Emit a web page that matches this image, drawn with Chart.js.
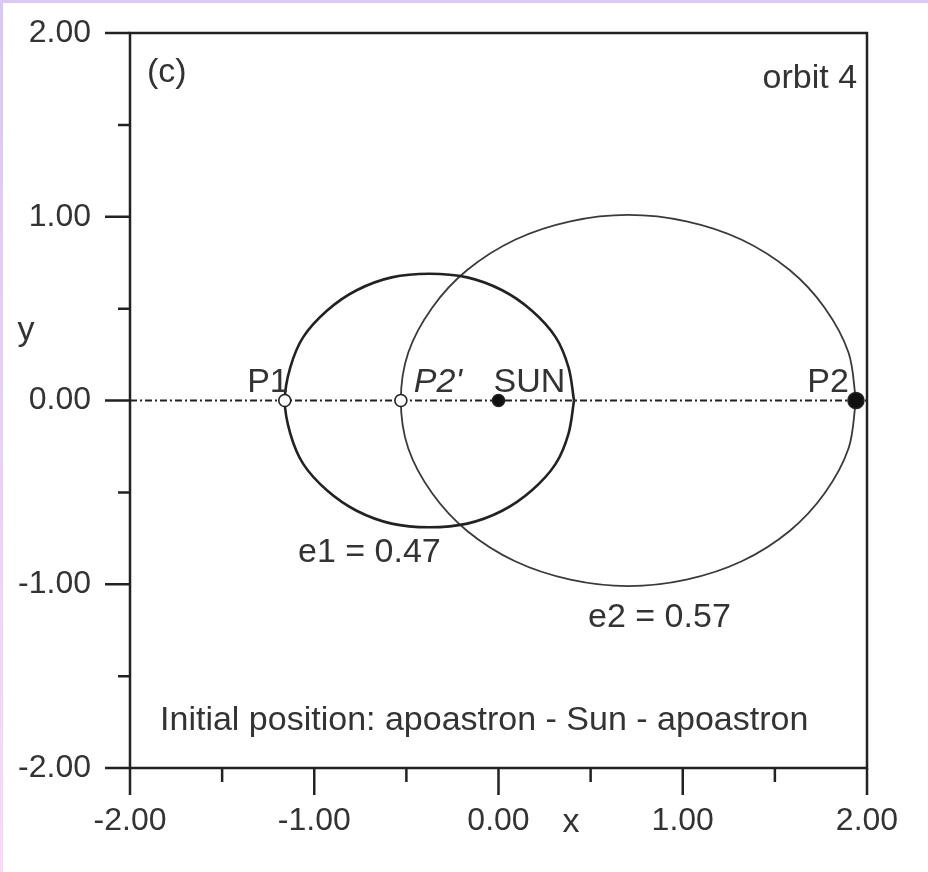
<!DOCTYPE html>
<html>
<head>
<meta charset="utf-8">
<script src="https://cdn.jsdelivr.net/npm/chart.js@4"></script>
<style>
html,body{margin:0;padding:0;background:#fff;}
#wrap{width:928px;height:872px;position:relative;}
</style>
</head>
<body>
<div id="wrap"><canvas id="orbita" width="928" height="872"></canvas></div>
<script>
// orbita 1 (e1 = 0.47), tocke ocitane sa slike
var orbit1X=[0.41,0.38,0.31,0.18,0.02,-0.17,-0.375,-0.58,-0.77,-0.93,-1.06,-1.13,-1.16,-1.13,-1.06,-0.93,-0.77,-0.58,-0.375,-0.17,0.02,0.18,0.31,0.38,0.41];
var orbit1Y=[0,0.18,0.345,0.49,0.60,0.67,0.69,0.67,0.60,0.49,0.345,0.18,0,-0.18,-0.345,-0.49,-0.60,-0.67,-0.69,-0.67,-0.60,-0.49,-0.345,-0.18,0];
// orbita 2 (e2 = 0.57)
var orbit2X=[1.94,1.90,1.77,1.58,1.32,1.02,0.705,0.39,0.09,-0.17,-0.36,-0.49,-0.53,-0.49,-0.36,-0.17,0.09,0.39,0.705,1.02,1.32,1.58,1.77,1.90,1.94];
var orbit2Y=[0,0.26,0.505,0.71,0.875,0.975,1.01,0.975,0.875,0.71,0.505,0.26,0,-0.26,-0.505,-0.71,-0.875,-0.975,-1.01,-0.975,-0.875,-0.71,-0.505,-0.26,0];
// os x (linija)
var axisLineX=[-2,2];
var axisLineY=[0,0];
// tocke
var pointNames=['P1',"P2'",'SUN','P2'];
var pointX=[-1.16,-0.53,0,1.94];
var pointY=[0,0,0,0];
var pointFilled=[false,false,true,true];
// skale
var xMin=-2,xMax=2,yMin=-2,yMax=2,tickStep=0.5;

var font='"Liberation Sans", Arial, sans-serif';
var ink='#333';

function uParove(xs,ys){
    var out=[];
    for(var i=0;i<xs.length;i++){
        out.push({x:xs[i],y:ys[i]});
    }
    return out;
}

function oznaka(v){
    if(Math.abs(v%1)>1e-9) return '';
    return v.toFixed(2);
}

var okvir={
    id:'okvir',
    beforeDraw:function(chart){
        var c=chart.ctx;
        c.save();
        c.fillStyle='#fff';
        c.fillRect(0,0,chart.width,chart.height);
        var g=c.createLinearGradient(0,0,0,chart.height);
        g.addColorStop(0,'#d9c6fa');
        g.addColorStop(1,'#fbd8fb');
        c.fillStyle=g;
        c.fillRect(0,0,3,chart.height);
        c.fillStyle='#dcc8fa';
        c.fillRect(0,0,chart.width,3);
        c.restore();
    },
    afterDraw:function(chart){
        var c=chart.ctx;
        var a=chart.chartArea;
        var sx=chart.scales.x, sy=chart.scales.y;
        c.save();
        c.strokeStyle='#222';
        c.lineWidth=2.5;
        c.strokeRect(a.left,a.top,a.right-a.left,a.bottom-a.top);
        c.beginPath();
        sy.ticks.forEach(function(t){
            var p=sy.getPixelForValue(t.value);
            var len=Math.abs(t.value%1)<1e-9?25:12;
            c.moveTo(a.left-len,p);
            c.lineTo(a.left,p);
        });
        sx.ticks.forEach(function(t){
            var p=sx.getPixelForValue(t.value);
            var len=Math.abs(t.value%1)<1e-9?27:14;
            c.moveTo(p,a.bottom);
            c.lineTo(p,a.bottom+len);
        });
        c.stroke();

        c.fillStyle=ink;
        c.font='34px '+font;
        c.textBaseline='alphabetic';
        function tekst(s,x,y,align){
            c.textAlign=align;
            c.fillText(s,sx.getPixelForValue(x),sy.getPixelForValue(y));
        }
        tekst('(c)',-1.908,1.733,'left');
        tekst('orbit 4',1.946,1.70,'right');
        tekst('e1 = 0.47',-1.088,-0.879,'left');
        tekst('e2 = 0.57',0.486,-1.234,'left');
        tekst('Initial position: apoastron - Sun - apoastron',-1.837,-1.793,'left');
        tekst('x',0.393,-2.348,'center');
        tekst('y',-2.565,0.33,'center');

        // nazivi tocaka
        var pomak=[[4,'right',false],[13,'left',true],[-5,'left',false],[-7,'right',false]];
        for(var i=0;i<pointNames.length;i++){
            c.font=(pomak[i][2]?'italic ':'')+'34px '+font;
            c.textAlign=pomak[i][1];
            c.fillText(pointNames[i],sx.getPixelForValue(pointX[i])+pomak[i][0],sy.getPixelForValue(pointY[i])-9);
        }
        c.restore();
    }
};

var graf=new Chart(document.getElementById('orbita'),{
    type:'scatter',
    data:{
        datasets:[{
            label:'os',
            data:uParove(axisLineX,axisLineY),
            showLine:true,
            borderColor:'#222',
            borderWidth:1.8,
            borderDash:[7,3,2,3],
            pointRadius:0,
            order:3
        },{
            label:'orbit 1',
            data:uParove(orbit1X,orbit1Y),
            showLine:true,
            tension:0.34,
            borderColor:'#222',
            borderWidth:2.6,
            pointRadius:0,
            order:2
        },{
            label:'orbit 2',
            data:uParove(orbit2X,orbit2Y),
            showLine:true,
            tension:0.34,
            borderColor:'#3a3a3a',
            borderWidth:1.8,
            pointRadius:0,
            order:2
        },{
            label:'tocke',
            data:uParove(pointX,pointY),
            pointRadius:[6,6,6,8],
            pointBorderWidth:1.6,
            pointBorderColor:'#222',
            pointBackgroundColor:pointFilled.map(function(f){return f?'#111':'#fff';}),
            order:1
        }]
    },
    options:{
        responsive:false,
        animation:false,
        clip:false,
        layout:{padding:{left:0,right:61,top:33,bottom:0}},
        plugins:{legend:{display:false},tooltip:{enabled:false}},
        scales:{
            x:{
                type:'linear',min:xMin,max:xMax,
                grid:{display:false,drawTicks:false},
                border:{display:false},
                ticks:{stepSize:tickStep,autoSkip:false,maxRotation:0,padding:34,color:ink,font:{family:font,size:32},callback:oznaka},
                afterFit:function(s){s.height=104;s.paddingLeft=0;s.paddingRight=0;}
            },
            y:{
                type:'linear',min:yMin,max:yMax,
                grid:{display:false,drawTicks:false},
                border:{display:false},
                ticks:{stepSize:tickStep,autoSkip:false,padding:39,color:ink,font:{family:font,size:32},callback:oznaka},
                afterFit:function(s){s.width=130;s.paddingTop=0;s.paddingBottom=0;}
            }
        }
    },
    plugins:[okvir]
});
</script>
</body>
</html>
